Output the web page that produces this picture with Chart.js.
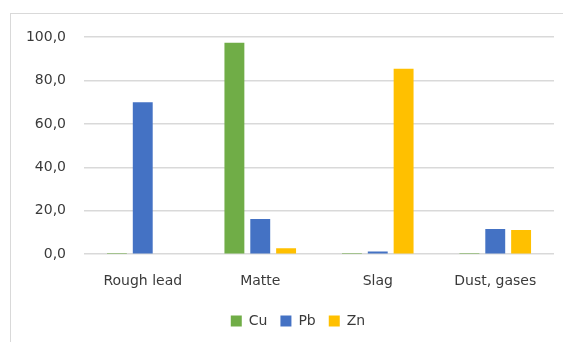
<!DOCTYPE html>
<html>
<head>
<meta charset="utf-8">
<script src="https://cdn.jsdelivr.net/npm/chart.js@4"></script>
<style>
  html, body { margin: 0; padding: 0; background: #fff; }
  #wrap { position: relative; width: 563px; height: 342px; overflow: hidden; }
  #frame { position: absolute; left: 10px; top: 13px; width: 600px; height: 400px;
           border-left: 1px solid #d9d9d9; border-top: 1px solid #d9d9d9; }
  canvas { position: absolute; left: 0; top: 0; }
</style>
</head>
<body>
<div id="wrap">
  <div id="frame"></div>
  <canvas id="distChart" width="563" height="342"></canvas>
</div>
<script>
// Distribution of elements between smelting products, %
var categories = ['Rough lead', 'Matte', 'Slag', 'Dust, gases'];
var cuValues = [0.5, 97.3, 0.5, 0.5];
var pbValues = [70.0, 16.2, 1.3, 11.6];
var znValues = [0.0, 2.7, 85.4, 11.1];
var yTicks = [0, 20, 40, 60, 80, 100];

// nudge the bottom legend a little to the right of the canvas centre
var legendShift = {
    id: 'legendShift',
    afterLayout: function (chart) {
        if (chart.legend) {
            chart.legend.left += 21;
            chart.legend.right += 21;
        }
    }
};

document.addEventListener('DOMContentLoaded', function () {
    var ctx = document.getElementById('distChart').getContext('2d');
    var font = { family: '"DejaVu Sans", sans-serif', size: 14 };
    var textColor = '#3a3a3a';

    new Chart(ctx, {
        type: 'bar',
        data: {
            labels: categories,
            datasets: [{
                label: 'Cu',
                data: cuValues,
                backgroundColor: '#70ad47'
            }, {
                label: 'Pb',
                data: pbValues,
                backgroundColor: '#4472c4'
            }, {
                label: 'Zn',
                data: znValues,
                backgroundColor: '#ffc000'
            }]
        },
        options: {
            responsive: false,
            animation: false,
            datasets: {
                bar: { categoryPercentage: 0.66, barPercentage: 0.77 }
            },
            layout: { padding: { top: 37, right: 9, left: 0, bottom: 4 } },
            plugins: {
                tooltip: { enabled: false },
                legend: {
                    position: 'bottom',
                    labels: {
                        boxWidth: 11,
                        boxHeight: 11,
                        padding: 13,
                        color: textColor,
                        font: font
                    }
                }
            },
            scales: {
                x: {
                    grid: { display: false },
                    border: { display: false },
                    ticks: { color: textColor, font: font, padding: 11 }
                },
                y: {
                    min: 0,
                    max: 100,
                    afterBuildTicks: function (scale) {
                        scale.ticks = yTicks.map(function (v) { return { value: v }; });
                    },
                    afterFit: function (scale) { scale.width = 84; },
                    grid: { color: '#d9d9d9', lineWidth: 1.5, drawTicks: false },
                    border: { display: false },
                    ticks: {
                        color: textColor,
                        font: font,
                        padding: 18,
                        callback: function (v) { return v.toFixed(1).replace('.', ','); }
                    }
                }
            }
        },
        plugins: [legendShift]
    });
});
</script>
</body>
</html>
